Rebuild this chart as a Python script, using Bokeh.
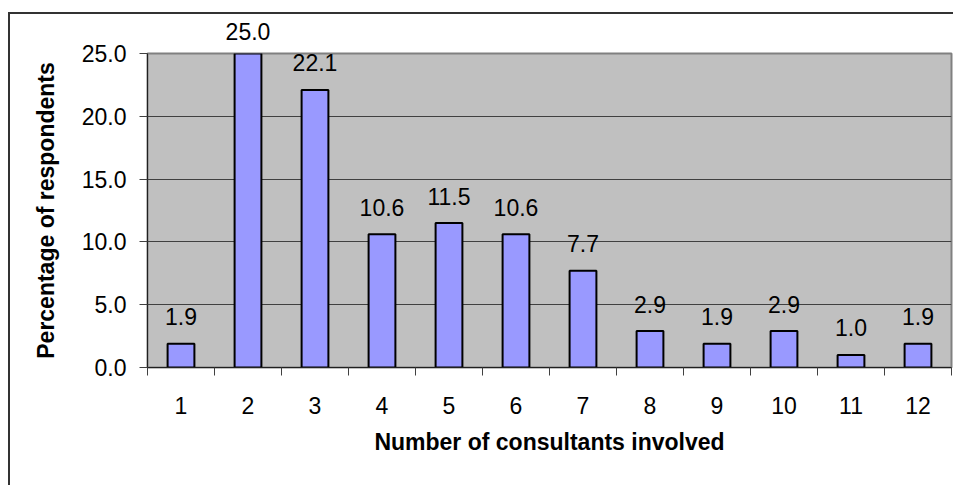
from bokeh.plotting import figure
from bokeh.models import (ColumnDataSource, FixedTicker, Range1d, LabelSet,
                          LinearAxis, CustomJSTickFormatter)
from bokeh.core.properties import value
from bokeh.embed import file_html
from bokeh.resources import INLINE

consultants = [1, 2, 3, 4, 5, 6, 7, 8, 9, 10, 11, 12]
percentages = [1.9, 25.0, 22.1, 10.6, 11.5, 10.6, 7.7, 2.9, 1.9, 2.9, 1.0, 1.9]
y_ticks = [0, 5, 10, 15, 20, 25]
x_title = "Number of consultants involved"
y_title = "Percentage of respondents"

FONT = "Liberation Sans"
FS = "23px"
Y_MAX = 25

labels_txt = [f"{v:.1f}" for v in percentages]
inside = [i for i, v in enumerate(percentages) if v < Y_MAX]
top_out = [i for i, v in enumerate(percentages) if v >= Y_MAX]

src = ColumnDataSource(dict(x=consultants, top=percentages))
lab_src = ColumnDataSource(dict(
    x=[consultants[i] for i in inside],
    y=[percentages[i] for i in inside],
    label=[labels_txt[i] for i in inside],
))

p = figure(width=945, height=473, output_backend="svg", toolbar_location=None,
           x_range=Range1d(0.5, 12.5), y_range=Range1d(0, Y_MAX),
           min_border_left=137, min_border_right=4, min_border_top=39, min_border_bottom=120)
p.margin = (12, 0, 0, 8)
p.styles = {"border-left": "2px solid #333333", "border-top": "2px solid #333333"}

xa = p.below[0]
ya = p.left[0]

p.background_fill_color = "#C0C0C0"
p.border_fill_color = "white"
p.outline_line_color = "#808080"
p.outline_line_width = 2

p.vbar(x="x", top="top", width=0.4, bottom=0, source=src,
       fill_color="#9999FF", line_color="black", line_width=2)

labels = LabelSet(x="x", y="y", text="label", source=lab_src,
                  text_align="center", text_baseline="middle", y_offset=27,
                  text_font=value(FONT), text_font_size=FS, text_color="black")
p.add_layout(labels)

# data labels of bars that reach the top of the plot area
above = LinearAxis(ticker=FixedTicker(ticks=[consultants[i] for i in top_out], minor_ticks=[]),
                   major_label_overrides={consultants[i]: labels_txt[i] for i in top_out},
                   axis_line_color=None, major_tick_line_color=None, minor_tick_line_color=None,
                   major_tick_out=0, major_tick_in=0, minor_tick_out=0, minor_tick_in=0,
                   major_label_standoff=14,
                   major_label_text_font=FONT, major_label_text_font_size=FS,
                   major_label_text_color="black")
p.add_layout(above, "above")

# grid
p.xgrid.grid_line_color = None
p.ygrid.ticker = FixedTicker(ticks=y_ticks[1:])
p.ygrid.grid_line_color = "#404040"
p.ygrid.grid_line_width = 1

# x axis
xa.ticker = FixedTicker(ticks=consultants,
                        minor_ticks=[c - 0.5 for c in consultants] + [consultants[-1] + 0.5])
xa.major_tick_line_color = None
xa.major_tick_out = 0
xa.major_tick_in = 0
xa.minor_tick_line_color = "#404040"
xa.minor_tick_out = 8
xa.minor_tick_in = 0
xa.axis_line_color = "#202020"
xa.major_label_standoff = 21
xa.major_label_text_font = FONT
xa.major_label_text_font_size = FS
xa.major_label_text_color = "black"
xa.axis_label = x_title
xa.axis_label_text_font = FONT
xa.axis_label_text_font_size = FS
xa.axis_label_text_font_style = "bold"
xa.axis_label_text_color = "black"
xa.axis_label_standoff = 12

# y axis
ya.ticker = FixedTicker(ticks=y_ticks)
ya.formatter = CustomJSTickFormatter(code="return tick.toFixed(1);")
ya.major_tick_line_color = "#404040"
ya.major_tick_out = 8
ya.major_tick_in = 0
ya.minor_tick_line_color = None
ya.axis_line_color = "#202020"
ya.major_label_standoff = 13
ya.major_label_text_font = FONT
ya.major_label_text_font_size = FS
ya.major_label_text_color = "black"
ya.axis_label = y_title
ya.axis_label_text_font = FONT
ya.axis_label_text_font_size = FS
ya.axis_label_text_font_style = "bold"
ya.axis_label_text_color = "black"
ya.axis_label_standoff = 20

open("out.html", "w").write(file_html(p, INLINE))
